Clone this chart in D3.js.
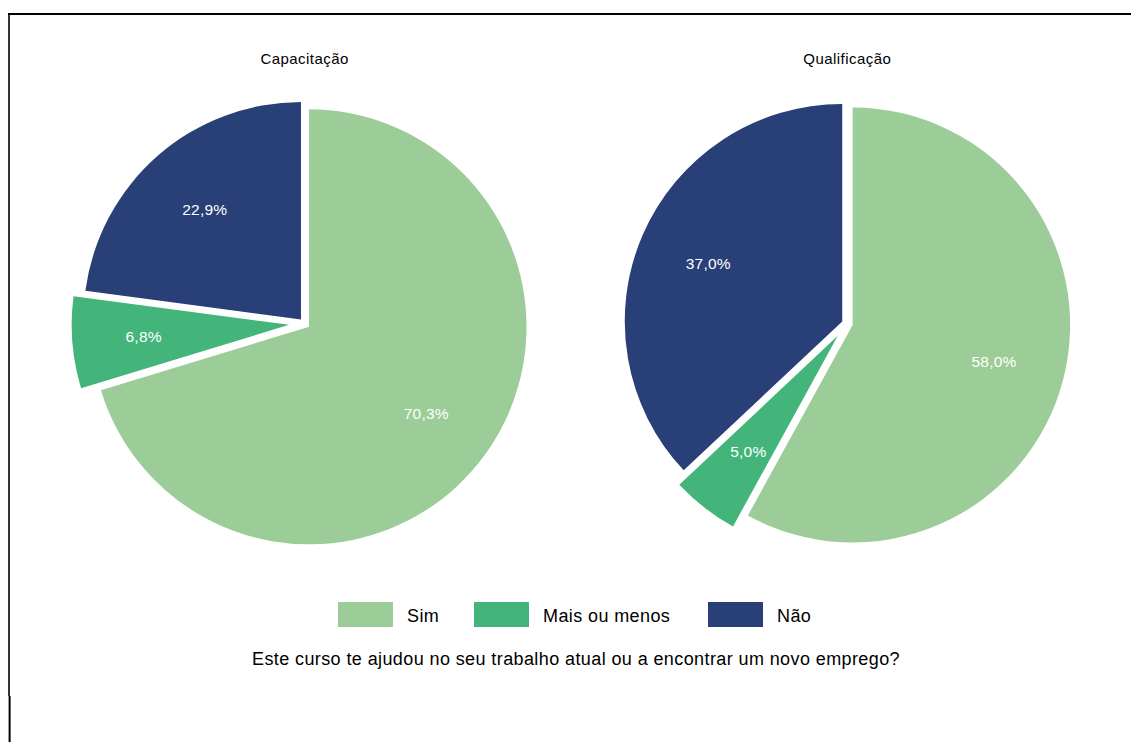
<!DOCTYPE html>
<html>
<head>
<meta charset="utf-8">
<script src="https://cdn.jsdelivr.net/npm/d3@7"></script>
<style>
  html, body { margin: 0; padding: 0; background: #fff; }
  svg { display: block; font-family: "Liberation Sans", Arial, Helvetica, sans-serif; }
</style>
</head>
<body>
<svg id="chart" width="1131" height="742"></svg>
<script>
// ---- data ----
const categories = ["Sim", "Mais ou menos", "Não"];
const panels = ["Capacitação", "Qualificação"];
const capacitacaoValues = [70.3, 6.8, 22.9];
const qualificacaoValues = [58.0, 5.0, 37.0];
const colors = ["#9ccd98", "#43b57a", "#284077"];
const questionText = "Este curso te ajudou no seu trabalho atual ou a encontrar um novo emprego?";

const W = 1131, H = 742;
const svg = d3.select("#chart");

svg.append("rect").attr("width", W).attr("height", H).attr("fill", "#fff");

// frame lines
svg.append("line").attr("x1", 8).attr("x2", W).attr("y1", 14).attr("y2", 14)
  .attr("stroke", "#000").attr("stroke-width", 2);
svg.append("line").attr("x1", 9).attr("x2", 9).attr("y1", 13).attr("y2", 696)
  .attr("stroke", "#000").attr("stroke-width", 1.6);
svg.append("line").attr("x1", 9.6).attr("x2", 9.6).attr("y1", 696).attr("y2", H)
  .attr("stroke", "#000").attr("stroke-width", 2);

const color = d3.scaleOrdinal().domain(categories).range(colors);
const R = 217.5;
const pullPx = d3.scaleOrdinal().domain(categories).range([5.5, 15.5, 5.5]);
const labelR = 146;

const pie = d3.pie().sort(null).value(d => d.value).startAngle(0).endAngle(2 * Math.PI);
const arc = d3.arc().innerRadius(0).outerRadius(R);

const centers = d3.scalePoint().domain(panels).range([304.6, 847.3]);
const cy = 323.6;

const fmt = v => d3.format(".1f")(v).replace(".", ",") + "%";

[capacitacaoValues, qualificacaoValues].forEach((vals, pi) => {
  const name = panels[pi];
  const data = categories.map((c, i) => ({ cat: c, value: vals[i] }));
  const g = svg.append("g").attr("transform", `translate(${centers(name)},${cy})`);
  const arcs = pie(data);
  arcs.forEach(a => {
    const mid = (a.startAngle + a.endAngle) / 2;
    const p = pullPx(a.data.cat);
    const dx = Math.sin(mid) * p, dy = -Math.cos(mid) * p;
    const sg = g.append("g").attr("transform", `translate(${dx},${dy})`);
    sg.append("path").attr("d", arc(a)).attr("fill", color(a.data.cat));
    sg.append("text")
      .attr("x", Math.sin(mid) * labelR)
      .attr("y", -Math.cos(mid) * labelR)
      .attr("text-anchor", "middle")
      .attr("dominant-baseline", "central")
      .attr("fill", "#fff")
      .attr("font-size", 15.5)
      .attr("letter-spacing", 0.25)
      .text(fmt(a.data.value));
  });
  svg.append("text")
    .attr("x", centers(name))
    .attr("y", 64)
    .attr("text-anchor", "middle")
    .attr("font-size", 15)
    .attr("letter-spacing", 0.45)
    .attr("fill", "#000")
    .text(name);
});

// legend
const legendX = [338, 474, 708];
const legend = svg.append("g");
categories.forEach((c, i) => {
  legend.append("rect").attr("x", legendX[i]).attr("y", 602).attr("width", 55).attr("height", 25)
    .attr("fill", color(c));
  legend.append("text").attr("x", legendX[i] + 69).attr("y", 622)
    .attr("font-size", 18).attr("letter-spacing", 0.4).attr("fill", "#000").text(c);
});

svg.append("text").attr("x", 576).attr("y", 665).attr("text-anchor", "middle")
  .attr("font-size", 18).attr("letter-spacing", 0.4).attr("fill", "#000").text(questionText);
</script>
</body>
</html>
